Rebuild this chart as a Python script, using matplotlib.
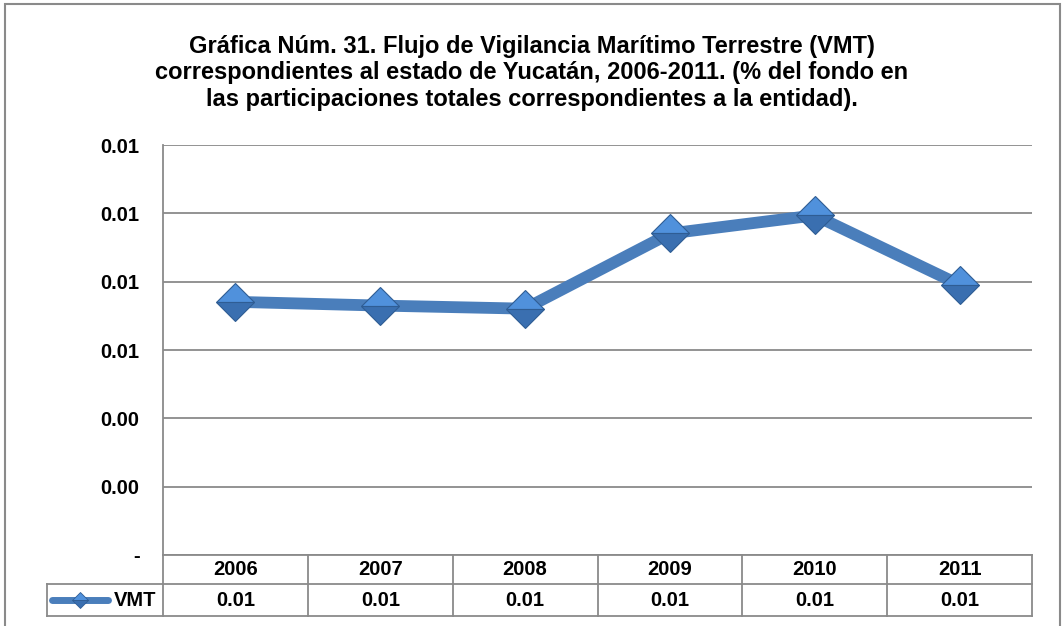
import matplotlib
matplotlib.use('Agg')
import matplotlib.pyplot as plt
from matplotlib.patches import Rectangle
from matplotlib.lines import Line2D

plt.rcParams['font.family'] = ['Liberation Sans', 'DejaVu Sans']
plt.rcParams['font.weight'] = 'bold'

#data
years = ['2006', '2007', '2008', '2009', '2010', '2011']
vmt = [0.00741, 0.00730, 0.00721, 0.00941, 0.00994, 0.00791]
yticks = [0, 0.002, 0.004, 0.006, 0.008, 0.010, 0.012]
title = ('Gráfica Núm. 31. Flujo de Vigilancia Marítimo Terrestre (VMT)\n'
         'correspondientes al estado de Yucatán, 2006-2011. (% del fondo en\n'
         'las participaciones totales correspondientes a la entidad).')

W, H = 1064, 626
grey = '#8a8a8a'
blue = '#4a7ebb'

fig = plt.figure(figsize=(W / 100, H / 100), dpi=100)

#outer chart frame
fig.patches.append(Rectangle((5 / W, -0.05), 1055 / W, 1 - 4 / H + 0.05,
                             transform=fig.transFigure, fill=False,
                             edgecolor=grey, linewidth=1.5))

fig.text(0.5, 1 - 73 / H, title, ha='center', va='center', fontsize=17,
         fontweight='bold', linespacing=1.17)

# plot area in pixels
left, right, top, bottom = 163, 1032, 145, 555
ax = fig.add_axes([left / W, 1 - bottom / H, (right - left) / W, (bottom - top) / H])

x = list(range(len(years)))
ax.plot(x, vmt, color=blue, linewidth=8.5, solid_capstyle='round', zorder=3,
        marker='D', markersize=19, fillstyle='top', markerfacecolor='#5091dc',
        markerfacecoloralt='#3a6fb0', markeredgecolor='#2f5d94',
        markeredgewidth=0.8, label='VMT')

ax.set_xlim(-0.5, len(years) - 0.5)
ax.set_ylim(yticks[0], yticks[-1])
ax.set_yticks(yticks)
ax.set_yticklabels(['-' if v == 0 else f'{v:.2f}' for v in yticks],
                   fontsize=14.5, fontweight='bold')
ax.tick_params(axis='y', length=0, pad=17)
ax.set_xticks([])
ax.grid(axis='y', color=grey, linewidth=1.3)
for s in ['right', 'bottom', 'top']:
    ax.spines[s].set_visible(False)
ax.spines['left'].set_color(grey)
ax.spines['left'].set_linewidth(1.3)
ax.set_axisbelow(True)

#data table under the plot
ph = bottom - top
pw = right - left
r1 = -(584 - bottom) / ph
r2 = -(616 - bottom) / ph
lx = (47 - left) / pw
kw = dict(transform=ax.transAxes, color=grey, linewidth=1.3, clip_on=False)
ax.add_line(Line2D([0, 1], [0, 0], **kw))
ax.add_line(Line2D([lx, 1], [r1, r1], **kw))
ax.add_line(Line2D([lx, 1], [r2, r2], **kw))
ax.add_line(Line2D([lx, lx], [r1, r2], **kw))
for i in range(len(years) + 1):
    ax.add_line(Line2D([i / len(years)] * 2, [0, r2], **kw))
for i, (yr, v) in enumerate(zip(years, vmt)):
    cx = (i + 0.5) / len(years)
    ax.text(cx, r1 / 2, yr, transform=ax.transAxes, ha='center', va='center',
            fontsize=14.5, fontweight='bold')
    ax.text(cx, (r1 + r2) / 2, f'{v:.2f}', transform=ax.transAxes,
            ha='center', va='center', fontsize=14.5, fontweight='bold')

#legend key inside the table
ax.add_line(Line2D([(52 - left) / pw, (108 - left) / pw], [(r1 + r2) / 2] * 2,
                   transform=ax.transAxes, color=blue, linewidth=5,
                   solid_capstyle='round', clip_on=False))
ax.add_line(Line2D([(80 - left) / pw], [(r1 + r2) / 2], transform=ax.transAxes,
                   marker='D', markersize=8, fillstyle='top',
                   markerfacecolor='#5091dc', markerfacecoloralt='#3a6fb0',
                   markeredgecolor='#2f5d94', markeredgewidth=0.6,
                   linestyle='none', clip_on=False))
ax.text((156 - left) / pw, (r1 + r2) / 2, 'VMT', transform=ax.transAxes,
        ha='right', va='center', fontsize=14.5, fontweight='bold')

fig.savefig('out.png', dpi=100)
